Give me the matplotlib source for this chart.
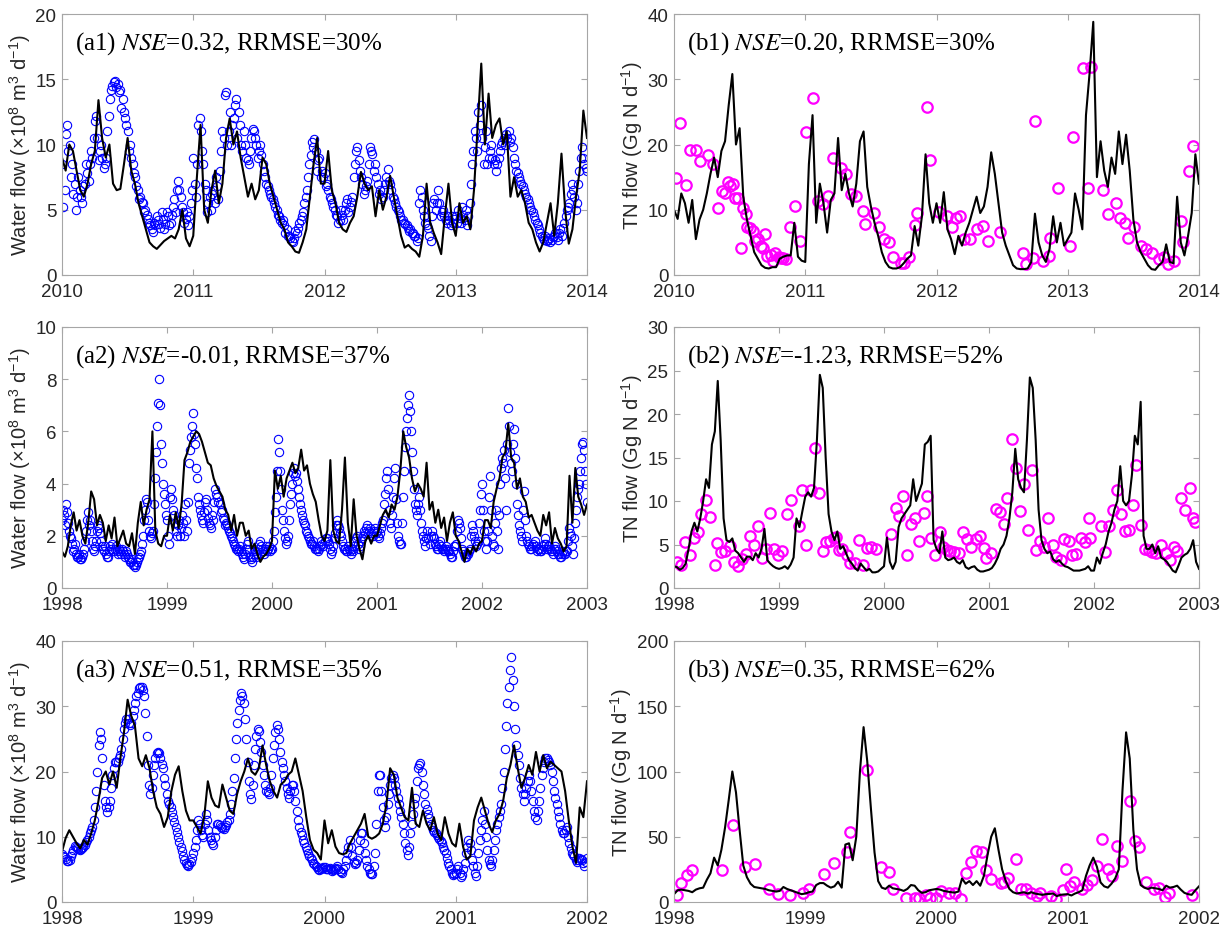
import numpy as np
import matplotlib.pyplot as plt

plt.rcParams['font.family'] = ['Liberation Sans', 'DejaVu Sans']
plt.rcParams['mathtext.fontset'] = 'custom'
plt.rcParams['mathtext.rm'] = 'Liberation Sans'
plt.rcParams['mathtext.it'] = 'Liberation Sans:italic'

# ---------------- (a1) water flow 2010-2014 ----------------
# simulated, ~10-day steps
a1_sim = [
    9.0, 8.0, 10.0, 9.5, 8.0, 6.5, 6.0, 7.0, 8.5, 9.5, 13.4, 10.5, 9.0, 10.0, 7.0, 6.5, 6.6, 8.5, 10.5, 8.0, 7.0, 5.5, 4.5, 3.5, 2.5, 2.2, 2.0, 2.3, 2.6, 2.8, 3.0, 2.8, 3.5, 5.0, 2.8, 2.2,
    3.0, 7.5, 11.5, 5.0, 4.0, 6.5, 8.0, 5.5, 7.0, 10.5, 12.0, 10.0, 11.0, 9.0, 7.5, 6.0, 7.0, 5.8, 6.5, 9.0, 8.5, 7.0, 6.0, 5.0, 4.0, 3.5, 2.5, 2.2, 1.8, 1.7, 2.5, 3.5, 6.0, 8.5, 10.5, 7.0,
    7.0, 9.5, 6.5, 5.5, 4.0, 3.5, 3.3, 4.0, 4.5, 6.0, 7.9, 7.0, 6.5, 6.8, 4.5, 6.5, 5.0, 6.0, 7.6, 6.0, 4.5, 3.0, 2.1, 2.3, 2.0, 1.8, 1.4, 3.0, 7.0, 4.0, 3.2, 2.5, 1.6, 4.5, 7.0, 4.0,
    3.0, 5.5, 4.0, 4.5, 3.5, 6.5, 11.4, 16.2, 10.0, 13.9, 10.5, 11.5, 12.0, 10.0, 11.0, 6.0, 7.5, 6.0, 6.5, 5.5, 4.0, 3.5, 2.5, 1.8, 2.5, 4.0, 5.5, 3.0, 5.5, 9.3, 5.0, 2.4, 3.5, 6.0, 8.0, 12.6,
    10.5]
# observed, weekly
a1_obs = [
    8.5, 6.5, 11.5, 10.0, 8.5, 7.0, 6.0, 6.5, 5.5, 7.0, 7.8, 8.5, 9.0, 11.8, 10.5, 9.5, 9.0, 8.5, 11.0, 13.5, 14.5, 14.9, 14.6, 14.2, 13.5, 12.0, 11.0, 10.0, 8.5, 7.5, 6.5, 6.0, 5.5, 5.0, 4.3, 3.8, 3.3, 3.8, 4.2, 3.6, 4.3, 3.9, 4.5, 4.0, 5.2, 4.8, 7.2, 6.0, 4.8, 4.3, 3.8, 5.5,
    9.0, 6.0, 11.5, 11.0, 8.5, 6.5, 5.5, 5.0, 6.5, 7.5, 5.8, 9.5, 10.5, 14.0, 11.0, 10.0, 12.0, 13.5, 12.5, 10.0, 11.0, 9.0, 8.5, 10.5, 11.0, 10.0, 9.5, 9.2, 8.0, 7.0, 6.5, 6.0, 5.5, 5.0, 4.5, 4.0, 3.8, 3.5, 3.0, 2.6, 2.8, 3.2, 4.0, 4.5, 5.5, 6.5, 8.5, 10.2, 10.4, 8.0, 9.0, 8.0,
    7.8, 7.0, 6.0, 5.5, 5.0, 4.5, 4.2, 4.6, 5.0, 5.8, 5.2, 6.0, 8.5, 9.8, 8.0, 7.0, 6.5, 7.2, 9.8, 9.3, 8.5, 7.0, 6.5, 6.0, 7.0, 8.1, 7.0, 6.0, 5.5, 5.0, 4.5, 4.2, 3.9, 3.6, 3.5, 3.2, 3.0, 2.8, 6.5, 5.0, 4.0, 3.6, 2.6, 5.5, 5.0, 6.5, 4.5, 5.0, 4.2, 4.5, 3.8, 4.0,
    4.5, 5.0, 4.0, 4.6, 5.0, 4.5, 7.0, 9.5, 10.5, 12.5, 13.0, 8.5, 11.0, 9.0, 10.0, 8.5, 8.0, 9.0, 10.0, 10.5, 10.8, 11.0, 10.5, 9.0, 8.0, 7.5, 7.0, 6.5, 6.0, 5.5, 5.0, 4.5, 4.0, 3.5, 3.0, 2.7, 2.6, 2.8, 2.7, 3.0, 2.9, 3.2, 3.0, 4.0, 5.0, 5.5, 7.0, 6.0, 5.5, 8.0, 9.8, 8.5,
    8.0]
# observed, mid-week readings
a1_obs_mid = [
    5.2, 10.8, 9.5, 7.5, 6.2, 5.0, 7.5, 6.0, 6.8, 8.5, 7.2, 9.5, 10.5, 12.2, 8.8, 10.0, 8.2, 9.0, 12.2, 14.2, 14.8, 14.4, 14.0, 12.8, 12.5, 11.5, 9.5, 9.0, 7.8, 6.8, 5.8, 5.6, 4.8, 4.6, 4.0, 3.5, 4.0, 4.5, 3.9, 4.8, 3.5, 4.8, 3.8, 4.6, 5.8, 6.5, 6.5, 5.2, 4.0, 4.8, 4.5, 6.5,
    7.0, 8.5, 12.0, 9.5, 7.0, 4.8, 6.0, 6.2, 5.5, 6.8, 8.0, 11.0, 13.8, 10.0, 12.5, 11.5, 13.0, 10.5, 11.5, 9.5, 10.0, 8.8, 9.5, 11.2, 10.5, 9.0, 10.0, 8.5, 7.5, 6.8, 6.2, 5.8, 5.2, 4.6, 4.2, 4.2, 3.2, 3.0, 2.8, 2.5, 3.4, 3.6, 4.2, 4.8, 6.0, 7.5, 9.2, 9.8, 9.5, 8.8, 7.5, 7.5,
    6.8, 6.5, 5.8, 5.2, 4.6, 4.0, 5.0, 4.2, 5.5, 4.8, 5.6, 7.5, 9.5, 8.8, 7.5, 6.2, 6.8, 8.5, 9.5, 8.0, 7.5, 6.2, 5.8, 6.5, 7.5, 7.2, 6.5, 5.8, 5.2, 4.8, 4.2, 4.0, 3.8, 3.4, 3.2, 3.0, 2.6, 5.5, 6.0, 4.5, 3.8, 3.0, 4.5, 5.8, 5.5, 5.5, 4.8, 4.5, 4.0, 4.2, 4.5, 4.3,
    4.0, 4.4, 5.2, 4.2, 3.8, 5.5, 8.5, 11.0, 9.5, 11.5, 10.5, 9.8, 8.5, 9.5, 9.0, 8.8, 8.5, 9.5, 10.2, 10.0, 10.5, 10.2, 9.8, 8.5, 7.8, 7.2, 6.8, 6.2, 5.8, 5.2, 4.8, 4.2, 3.8, 3.2, 2.8, 3.0, 2.7, 2.5, 2.9, 3.2, 2.7, 3.5, 3.6, 4.5, 5.2, 6.2, 6.5, 5.0, 7.0, 9.0, 9.0, 8.2]

# ---------------- (b1) TN flow 2010-2014 ----------------
b1_sim = [
    10.0, 8.6, 12.5, 11.0, 8.0, 11.5, 5.5, 8.5, 10.0, 12.5, 15.5, 18.0, 15.0, 19.0, 20.5, 26.0, 30.8, 20.0, 22.5, 12.0, 8.5, 6.0, 3.5, 2.5, 1.5, 1.1, 1.0, 1.2, 1.2, 2.5, 2.8, 3.0, 3.0, 8.0, 2.8, 2.2,
    2.0, 17.0, 24.5, 8.0, 14.0, 11.0, 6.5, 11.5, 12.5, 21.0, 13.0, 15.5, 12.5, 10.5, 14.0, 20.5, 22.0, 13.5, 10.5, 8.0, 6.0, 3.5, 2.0, 1.2, 1.0, 1.0, 1.2, 1.8, 2.5, 3.0, 7.5, 4.5, 9.0, 18.5, 11.0, 8.0,
    11.0, 8.0, 12.7, 7.0, 5.5, 3.2, 6.0, 4.5, 6.5, 8.0, 10.0, 12.0, 9.5, 10.5, 13.5, 18.8, 15.5, 11.0, 6.5, 4.5, 3.0, 1.5, 1.0, 0.9, 0.9, 1.0, 2.0, 9.4, 5.0, 3.0, 2.0, 4.0, 9.0, 5.0, 8.0, 4.5,
    5.5, 6.5, 12.5, 10.0, 7.0, 24.5, 31.0, 38.8, 15.0, 20.5, 16.0, 13.5, 18.0, 15.5, 22.0, 17.0, 21.5, 16.0, 8.5, 5.0, 3.5, 2.5, 1.5, 0.9, 0.8, 1.5, 2.0, 4.7, 2.0, 1.8, 12.0, 5.0, 3.0, 6.0, 9.5, 18.5,
    14.0]
b1_obs_t = [
    2010.013, 2010.048, 2010.089, 2010.119, 2010.165, 2010.2, 2010.258, 2010.299, 2010.332, 2010.362,
    2010.39, 2010.41, 2010.43, 2010.448, 2010.466, 2010.489, 2010.509, 2010.522, 2010.547, 2010.557,
    2010.58, 2010.605, 2010.618, 2010.64, 2010.666, 2010.681, 2010.696, 2010.711, 2010.739, 2010.757,
    2010.772, 2010.797, 2010.815, 2010.833, 2010.853, 2010.884, 2010.924, 2010.96, 2011.005, 2011.06,
    2011.10, 2011.134, 2011.172, 2011.213, 2011.276, 2011.314, 2011.347, 2011.387, 2011.44, 2011.456,
    2011.524, 2011.562, 2011.6, 2011.638, 2011.671, 2011.727, 2011.749, 2011.787, 2011.835, 2011.853,
    2011.93, 2011.952, 2012.02, 2012.08, 2012.12, 2012.152, 2012.182, 2012.213, 2012.258, 2012.309,
    2012.354, 2012.39, 2012.481, 2012.658, 2012.684, 2012.734, 2012.752, 2012.81, 2012.856, 2012.868,
    2012.927, 2013.02, 2013.038, 2013.119, 2013.154, 2013.177, 2013.271, 2013.306, 2013.365, 2013.397,
    2013.438, 2013.458, 2013.501, 2013.56, 2013.597, 2013.64, 2013.696, 2013.732, 2013.767, 2013.808,
    2013.861, 2013.881, 2013.92, 2013.954]
b1_obs = [
    14.9, 23.3, 13.8, 19.2, 19.1, 17.4, 18.4, 17.0, 10.3, 12.8,
    12.5, 14.2, 13.6, 13.9, 11.8, 11.8, 4.1, 10.2, 9.3, 7.4,
    7.2, 6.8, 5.2, 5.5, 4.4, 4.1, 6.3, 2.9, 3.1, 2.2,
    3.3, 2.7, 2.6, 2.6, 2.5, 7.3, 10.5, 5.2, 21.9, 27.1,
    11.4, 10.9, 12.1, 17.9, 16.4, 15.5, 12.4, 12.1, 9.8, 7.8,
    9.5, 7.3, 5.5, 5.0, 2.7, 1.9, 1.8, 2.7, 7.7, 9.5,
    25.8, 17.7, 9.6, 9.1, 7.3, 8.8, 9.0, 5.5, 5.5, 7.1,
    7.5, 5.2, 6.6, 3.3, 1.7, 2.6, 23.6, 2.1, 2.9, 5.7,
    13.4, 4.5, 21.2, 31.8, 13.4, 31.9, 13.0, 9.4, 11.0, 8.7,
    7.9, 5.6, 7.4, 4.5, 4.0, 3.3, 2.5, 2.7, 1.7, 2.1,
    8.2, 5.1, 16.0, 19.8]

# ---------------- (a2) water flow 1998-2003 ----------------
a2_sim = [
    1.4, 1.2, 1.6, 2.4, 2.9, 2.2, 2.6, 2.0, 1.7, 2.5, 3.7, 3.4, 2.4, 2.8, 2.5, 1.8, 2.4, 1.9, 2.7, 1.6, 1.9, 2.2, 1.7, 1.6, 2.1, 1.3, 2.5, 3.3, 2.4, 3.0, 3.4, 6.0, 2.2, 1.7, 1.6, 2.0,
    2.0, 2.8, 2.2, 2.9, 2.3, 3.2, 4.9, 5.2, 5.6, 5.8, 6.0, 5.9, 5.6, 5.2, 4.8, 4.7, 4.2, 3.9, 3.7, 3.5, 3.0, 2.8, 2.2, 2.8, 2.0, 2.5, 2.5, 2.0, 2.2, 1.5, 1.7, 1.3, 1.0, 1.2, 1.3, 1.5,
    1.8, 4.5, 3.8, 4.3, 3.5, 4.2, 4.5, 4.8, 4.4, 4.6, 5.3, 4.5, 4.7, 4.0, 3.6, 3.3, 2.6, 2.0, 1.8, 2.2, 4.9, 2.2, 1.8, 1.7, 3.0, 5.0, 2.5, 1.6, 3.4, 2.0, 1.5, 1.1, 1.8, 2.0, 1.7, 2.0,
    2.0, 2.4, 2.8, 3.0, 2.7, 3.2, 3.0, 3.5, 4.5, 6.0, 5.4, 5.0, 4.2, 3.7, 4.0, 3.8, 3.5, 4.8, 3.0, 3.3, 2.5, 3.0, 2.3, 2.7, 1.8, 2.5, 2.9, 2.0, 1.8, 1.4, 1.0, 1.5, 1.3, 1.6, 1.4, 1.7,
    1.8, 2.6, 2.6, 2.3, 3.3, 3.8, 4.2, 5.0, 5.2, 6.3, 5.0, 4.8, 3.8, 4.2, 3.5, 3.3, 2.7, 2.8, 2.5, 2.2, 2.0, 2.8, 2.4, 2.9, 1.7, 2.3, 1.9, 1.7, 1.4, 1.6, 4.3, 2.5, 4.6, 3.5, 3.2, 2.8,
    3.2]
a2_obs = [
    2.6, 2.8, 3.2, 2.5, 2.0, 1.7, 1.5, 1.3, 1.2, 1.1, 1.2, 1.5, 2.2, 2.9, 2.6, 1.8, 1.4, 1.8, 2.4, 2.1, 1.6, 1.4, 1.3, 1.2, 1.6, 1.7, 1.5, 1.4, 1.5, 1.3, 1.4, 1.2, 1.3, 1.1, 1.0, 0.9, 0.8, 1.0, 1.2, 1.4, 2.0, 3.0, 3.3, 2.2, 1.9, 2.2, 4.2, 6.2, 8.0, 5.5, 4.0, 3.2,
    2.6, 1.7, 3.8, 3.0, 2.5, 2.0, 2.6, 2.3, 2.5, 3.2, 2.2, 4.8, 5.8, 6.7, 5.5, 4.2, 3.2, 2.8, 2.5, 3.3, 3.0, 2.5, 2.3, 2.6, 3.8, 3.5, 3.2, 3.0, 2.6, 2.5, 2.3, 2.1, 1.9, 1.7, 1.5, 1.4, 1.6, 1.3, 1.1, 1.5, 1.8, 1.2, 1.0, 1.3, 1.2, 1.5, 1.8, 1.5, 1.3, 1.6, 1.5, 1.4,
    1.5, 2.2, 3.5, 5.7, 4.5, 3.0, 2.2, 1.7, 2.0, 3.2, 4.0, 4.6, 4.4, 3.8, 3.2, 2.8, 2.5, 2.2, 2.0, 1.8, 1.7, 1.6, 1.5, 1.4, 1.6, 1.7, 1.8, 1.9, 1.7, 1.3, 1.6, 2.1, 2.6, 2.3, 2.0, 1.6, 1.5, 1.4, 1.5, 1.3, 1.4, 1.8, 2.0, 1.5, 1.8, 2.0, 2.1, 2.4, 2.2, 2.1, 2.0, 2.3,
    2.2, 1.9, 2.3, 2.6, 3.6, 4.5, 3.0, 2.3, 3.5, 4.6, 2.5, 1.8, 1.7, 3.5, 5.4, 6.5, 7.4, 6.0, 4.5, 3.2, 2.8, 3.5, 2.5, 2.0, 1.6, 2.2, 1.7, 2.2, 1.9, 1.6, 1.5, 1.8, 1.5, 1.4, 1.6, 1.4, 1.3, 1.2, 1.6, 1.7, 2.6, 2.3, 1.5, 1.3, 1.2, 1.3, 1.5, 2.4, 2.0, 1.6, 1.8, 3.0,
    4.0, 2.2, 1.5, 2.2, 4.3, 2.0, 1.6, 3.0, 1.5, 4.0, 5.0, 5.3, 3.0, 6.9, 5.2, 4.5, 6.1, 4.0, 2.8, 2.2, 1.8, 3.7, 2.0, 1.7, 1.5, 1.6, 1.8, 1.4, 1.5, 1.4, 1.6, 1.9, 1.5, 1.6, 1.4, 1.3, 1.6, 1.4, 1.3, 1.2, 1.4, 1.3, 1.4, 2.3, 2.0, 1.3, 2.5, 3.5, 4.0, 5.0, 5.6, 4.5,
    3.3]
a2_obs_mid = [
    3.0, 2.4, 2.9, 2.2, 1.9, 1.4, 1.7, 1.2, 1.3, 1.1, 1.3, 1.8, 2.6, 2.4, 2.2, 1.5, 1.6, 2.2, 2.3, 1.8, 1.5, 1.6, 1.2, 1.4, 1.5, 1.4, 1.6, 1.3, 1.4, 1.5, 1.3, 1.4, 1.2, 1.0, 1.1, 0.9, 0.9, 1.1, 1.3, 1.7, 2.6, 3.4, 2.6, 2.0, 2.1, 3.2, 5.2, 7.1, 7.0, 4.8, 3.6, 2.8,
    2.0, 3.5, 3.4, 2.8, 2.2, 2.4, 2.0, 2.8, 2.0, 2.6, 3.3, 5.3, 6.2, 5.9, 4.6, 3.5, 3.0, 2.6, 2.9, 3.4, 2.7, 2.4, 2.8, 3.3, 3.6, 3.3, 2.9, 2.7, 2.4, 2.4, 2.2, 2.0, 1.8, 1.6, 1.5, 1.5, 1.4, 1.2, 1.3, 1.7, 1.5, 1.1, 1.2, 1.4, 1.3, 1.7, 1.6, 1.4, 1.5, 1.4, 1.6, 1.5,
    1.8, 2.9, 4.5, 5.2, 3.8, 2.6, 1.9, 1.8, 2.6, 3.6, 4.4, 4.3, 4.1, 3.5, 3.0, 2.6, 2.4, 2.1, 1.9, 1.7, 1.8, 1.5, 1.5, 1.5, 1.8, 1.6, 1.9, 1.8, 1.5, 1.4, 1.9, 2.4, 2.4, 2.1, 1.8, 1.5, 1.4, 1.6, 1.4, 1.5, 1.6, 1.9, 1.7, 1.6, 1.9, 2.2, 2.3, 2.1, 2.3, 2.0, 2.2, 2.1,
    2.0, 2.1, 2.5, 3.2, 4.2, 3.8, 2.5, 2.8, 4.2, 3.4, 2.0, 1.7, 2.5, 4.5, 6.0, 7.0, 6.8, 5.2, 3.8, 3.0, 3.2, 3.0, 2.2, 1.8, 1.9, 1.9, 2.0, 2.0, 1.7, 1.5, 1.7, 1.6, 1.5, 1.5, 1.5, 1.4, 1.2, 1.4, 1.6, 2.2, 2.5, 1.9, 1.4, 1.2, 1.3, 1.4, 2.0, 2.2, 1.8, 1.7, 2.5, 3.6,
    3.0, 1.8, 1.8, 3.5, 3.0, 1.7, 2.5, 2.2, 2.8, 4.6, 4.8, 4.2, 5.5, 6.2, 4.8, 5.5, 5.0, 3.2, 2.4, 2.0, 3.0, 2.6, 1.8, 1.6, 1.5, 1.7, 1.6, 1.5, 1.4, 1.5, 1.7, 1.7, 1.6, 1.5, 1.4, 1.5, 1.5, 1.3, 1.2, 1.3, 1.3, 1.4, 1.8, 2.1, 1.6, 1.9, 3.0, 3.8, 4.5, 5.5, 5.3, 4.0]

# ---------------- (b2) TN flow 1998-2003 ----------------
b2_sim = [
    2.5, 2.4, 2.1, 2.3, 2.8, 4.5, 6.5, 7.5, 6.5, 8.0, 10.0, 12.5, 11.5, 16.5, 18.0, 23.8, 17.0, 8.0, 5.5, 5.3, 5.7, 4.3, 4.0, 3.5, 3.0, 3.6, 3.6, 3.2, 4.0, 3.5, 4.5, 6.8, 3.2, 2.8, 2.5, 2.3,
    2.2, 2.3, 2.5, 2.2, 2.7, 3.5, 8.0, 7.0, 8.8, 10.5, 11.0, 10.5, 11.5, 17.0, 24.5, 23.0, 15.0, 8.5, 6.5, 5.5, 6.5, 4.5, 4.8, 4.0, 3.2, 2.8, 2.3, 2.0, 2.8, 2.4, 2.0, 2.2, 1.8, 1.8, 1.9, 2.2,
    2.5, 5.8, 3.0, 2.2, 3.0, 7.0, 8.0, 8.5, 9.0, 9.5, 12.5, 10.0, 11.0, 12.0, 16.5, 16.8, 17.5, 5.5, 4.5, 4.0, 6.5, 3.5, 3.2, 3.3, 3.5, 3.0, 2.8, 3.2, 2.4, 2.2, 2.4, 2.5, 2.1, 1.9, 1.9, 2.0,
    2.1, 2.3, 2.8, 3.5, 4.5, 5.0, 6.0, 8.0, 11.0, 16.0, 12.5, 11.5, 11.0, 17.0, 24.2, 23.0, 17.0, 9.0, 5.5, 4.5, 4.0, 4.2, 3.3, 3.0, 3.2, 2.8, 2.5, 2.4, 2.2, 2.0, 2.0, 2.0, 2.1, 2.2, 2.5, 2.0,
    2.0, 3.5, 2.8, 4.0, 5.0, 6.5, 7.5, 9.0, 10.0, 14.0, 10.0, 9.5, 10.0, 13.0, 17.5, 16.5, 21.4, 6.0, 4.5, 4.5, 5.0, 4.0, 4.8, 3.5, 3.3, 3.0, 2.5, 2.0, 1.8, 2.6, 3.5, 3.8, 4.0, 4.5, 5.5, 3.0,
    2.2]
b2_obs_t = [
    1998.03, 1998.07, 1998.105, 1998.15, 1998.19, 1998.23, 1998.26, 1998.305, 1998.34, 1998.39,
    1998.41, 1998.45, 1998.49, 1998.53, 1998.57, 1998.61, 1998.65, 1998.69, 1998.725, 1998.76,
    1998.80, 1998.84, 1998.88, 1998.915, 1998.95, 1998.99, 1999.03, 1999.075, 1999.11, 1999.19,
    1999.22, 1999.26, 1999.30, 1999.34, 1999.38, 1999.415, 1999.45, 1999.485, 1999.52, 1999.54,
    1999.57, 1999.60, 1999.645, 1999.68, 1999.72, 1999.76, 1999.80, 1999.835, 1999.875, 1999.92,
    2000.07, 2000.11, 2000.14, 2000.18, 2000.22, 2000.26, 2000.295, 2000.33, 2000.378, 2000.413,
    2000.451, 2000.489, 2000.53, 2000.562, 2000.6, 2000.632, 2000.667, 2000.714, 2000.752, 2000.794,
    2000.832, 2000.873, 2000.911, 2000.949, 2000.968, 2001.022, 2001.063, 2001.102, 2001.14, 2001.175,
    2001.219, 2001.26, 2001.298, 2001.333, 2001.371, 2001.41, 2001.444, 2001.489, 2001.524, 2001.562,
    2001.61, 2001.635, 2001.683, 2001.711, 2001.759, 2001.787, 2001.825, 2001.879, 2001.911, 2001.949,
    2001.965, 2002.063, 2002.102, 2002.143, 2002.181, 2002.219, 2002.257, 2002.292, 2002.333, 2002.371,
    2002.403, 2002.448, 2002.483, 2002.524, 2002.556, 2002.594, 2002.641, 2002.683, 2002.721, 2002.759,
    2002.794, 2002.832, 2002.87, 2002.911, 2002.943, 2002.965]
b2_obs = [
    3.0, 2.7, 5.3, 3.8, 5.7, 6.4, 8.5, 10.1, 8.2, 2.6,
    5.2, 4.1, 4.2, 4.8, 3.0, 2.5, 3.3, 3.9, 6.0, 4.9,
    7.1, 3.4, 4.5, 8.6, 4.5, 3.8, 4.2, 8.5, 10.1, 7.1,
    11.3, 4.9, 11.3, 16.1, 10.9, 4.3, 5.3, 5.4, 5.7, 5.9,
    4.4, 4.5, 3.8, 2.9, 2.9, 5.5, 2.7, 4.6, 4.7, 4.5,
    6.2, 9.2, 8.3, 10.6, 3.8, 7.3, 8.1, 5.4, 8.6, 10.6,
    5.8, 3.8, 6.4, 4.7, 4.4, 4.3, 4.1, 4.0, 6.4, 5.6,
    4.7, 5.6, 6.0, 4.6, 3.4, 4.0, 9.1, 8.7, 7.4, 10.4,
    17.1, 13.8, 8.9, 11.9, 6.7, 13.6, 4.4, 5.4, 4.7, 8.1,
    4.9, 3.6, 3.2, 5.6, 5.4, 3.8, 3.9, 5.7, 5.3, 8.1,
    5.8, 7.1, 4.1, 7.1, 9.0, 11.3, 8.5, 6.5, 6.7, 9.5,
    14.1, 7.2, 4.5, 4.4, 4.1, 4.0, 5.0, 4.0, 3.2, 4.7,
    4.3, 10.4, 9.0, 11.5, 8.1, 7.6]

# ---------------- (a3) water flow 1998-2002 ----------------
a3_sim = [
    7.7, 9.8, 11.0, 10.0, 9.0, 8.2, 9.5, 8.8, 10.5, 12.5, 15.5, 19.0, 20.0, 18.0, 20.0, 17.5, 22.0, 26.0, 31.0, 28.5, 27.0, 22.0, 20.8, 22.5, 20.5, 17.0, 14.5, 13.5, 11.5, 13.0, 17.0, 19.5, 20.8, 17.0, 14.0, 12.5,
    12.5, 11.5, 10.5, 13.0, 18.5, 16.0, 14.8, 14.5, 18.0, 16.0, 14.0, 13.5, 16.5, 18.5, 20.0, 22.0, 20.0, 19.5, 20.5, 24.0, 21.0, 18.5, 17.0, 16.0, 18.0, 18.5, 19.5, 20.0, 22.0, 19.5, 17.0, 13.0, 9.5, 8.0, 7.5, 6.5,
    12.5, 9.0, 11.0, 8.5, 7.5, 7.3, 7.5, 9.0, 10.0, 11.0, 12.0, 13.5, 10.0, 9.7, 10.0, 10.5, 12.0, 15.0, 20.5, 19.5, 16.0, 14.5, 13.0, 12.5, 17.5, 12.0, 11.5, 14.0, 12.0, 11.0, 13.0, 10.5, 9.5, 13.0, 10.5, 9.0,
    8.5, 12.0, 8.5, 6.5, 7.0, 12.5, 14.5, 16.0, 14.0, 12.0, 10.7, 12.5, 13.5, 15.5, 19.0, 21.0, 24.0, 20.5, 17.5, 19.0, 21.0, 19.5, 23.0, 20.0, 22.5, 20.5, 21.5, 21.0, 20.5, 20.0, 17.0, 12.5, 8.5, 6.0, 14.5, 13.0,
    18.5]
a3_obs = [
    7.3, 6.9, 6.3, 6.5, 7.5, 8.6, 8.3, 8.0, 8.2, 8.8, 9.5, 10.5, 11.5, 14.5, 20.0, 26.0, 22.0, 15.5, 13.8, 15.5, 19.5, 21.5, 21.5, 22.5, 25.0, 27.5, 28.0, 27.2, 28.5, 30.5, 32.0, 33.0, 32.5, 29.0, 21.0, 16.5, 19.5, 22.0, 23.0, 22.0, 20.5, 18.0, 15.5, 14.5, 13.0, 11.5, 10.0, 8.5, 7.0, 6.0, 5.5, 6.2,
    7.5, 9.5, 12.5, 11.0, 10.0, 13.5, 11.0, 9.5, 8.8, 11.0, 12.0, 11.5, 11.2, 11.8, 12.5, 15.0, 19.0, 25.0, 29.5, 32.0, 30.5, 25.0, 18.5, 15.8, 21.0, 25.5, 26.2, 23.0, 19.5, 17.0, 16.6, 19.5, 24.0, 27.2, 25.0, 21.5, 19.5, 17.5, 16.0, 18.0, 17.0, 14.0, 11.5, 10.2, 9.0, 8.0, 7.0, 6.5, 5.8, 5.3, 4.9, 5.2,
    5.3, 5.0, 5.2, 4.8, 5.0, 5.5, 4.8, 4.5, 5.5, 7.5, 9.5, 7.0, 5.8, 6.5, 9.5, 10.5, 7.5, 5.5, 4.5, 4.3, 7.5, 17.0, 19.5, 14.5, 11.5, 15.0, 18.0, 19.5, 18.0, 16.0, 14.0, 12.0, 9.0, 7.2, 10.5, 13.5, 16.0, 20.5, 21.3, 18.0, 15.0, 13.5, 12.0, 11.0, 10.5, 10.0, 9.3, 8.5, 7.5, 6.0, 5.0, 4.2,
    4.5, 5.5, 3.8, 5.0, 7.5, 9.5, 8.0, 5.5, 4.0, 7.5, 11.0, 14.0, 10.0, 6.5, 5.5, 8.0, 11.0, 13.0, 15.0, 20.0, 27.0, 33.0, 37.5, 30.0, 24.0, 21.0, 17.5, 15.5, 17.5, 19.5, 17.0, 14.0, 12.5, 15.5, 19.5, 21.5, 22.0, 21.5, 20.0, 17.0, 15.0, 13.0, 11.0, 10.5, 11.5, 9.0, 7.5, 7.0, 6.2, 6.8, 6.5, 5.5,
    6.8]
a3_obs_mid = [
    7.1, 6.6, 6.3, 7.0, 8.0, 8.5, 8.1, 8.1, 8.5, 9.2, 10.0, 11.0, 12.5, 17.0, 24.0, 25.0, 18.0, 14.5, 14.5, 17.5, 20.5, 21.5, 22.0, 23.5, 26.5, 28.0, 27.5, 27.5, 29.5, 31.5, 32.8, 33.0, 31.5, 25.5, 18.0, 17.5, 21.0, 22.8, 22.8, 21.2, 19.0, 16.5, 15.0, 13.8, 12.2, 10.8, 9.2, 7.8, 6.5, 5.7, 5.8, 6.8,
    8.5, 11.0, 12.0, 10.2, 12.0, 12.5, 10.0, 9.0, 10.0, 12.0, 11.8, 11.3, 11.5, 12.2, 13.5, 17.0, 22.0, 27.5, 31.0, 31.5, 28.0, 21.5, 16.5, 18.0, 23.5, 26.5, 24.5, 21.0, 18.0, 16.8, 17.5, 22.0, 26.0, 26.5, 23.0, 20.5, 18.5, 16.5, 17.0, 18.0, 15.5, 12.5, 10.8, 9.5, 8.5, 7.5, 6.7, 6.0, 5.5, 5.0, 5.0, 5.3,
    5.1, 5.0, 5.0, 4.9, 5.2, 5.1, 4.6, 5.0, 6.5, 8.5, 8.5, 6.2, 6.0, 8.0, 10.5, 9.0, 6.5, 5.0, 4.3, 5.5, 12.0, 19.5, 17.0, 12.5, 13.0, 16.5, 19.0, 19.0, 17.0, 15.0, 13.0, 10.5, 8.0, 8.5, 12.0, 15.0, 18.5, 21.0, 20.0, 16.5, 14.2, 12.8, 11.5, 10.8, 10.2, 9.6, 9.0, 8.0, 6.8, 5.5, 4.5, 4.3,
    5.0, 4.5, 4.2, 6.0, 8.5, 9.0, 6.5, 4.5, 5.5, 9.5, 12.5, 12.0, 8.0, 5.8, 6.5, 9.5, 12.0, 14.0, 17.5, 23.5, 30.5, 35.5, 34.0, 26.5, 22.5, 19.0, 16.5, 16.5, 18.5, 18.5, 15.5, 13.0, 14.0, 17.5, 20.5, 22.0, 21.8, 21.0, 18.5, 16.0, 14.0, 12.0, 10.5, 11.0, 10.0, 8.2, 7.2, 6.5, 6.5, 6.6, 6.0, 6.2]

# ---------------- (b3) TN flow 1998-2002 ----------------
b3_sim = [
    6.0, 9.0, 9.5, 9.0, 8.5, 7.5, 9.5, 10.5, 11.0, 17.0, 22.0, 34.0, 28.0, 40.0, 57.0, 78.0, 100.0, 84.0, 55.0, 28.0, 19.0, 14.0, 11.5, 11.0, 10.5, 10.0, 9.0, 8.5, 8.0, 8.5, 11.5, 10.0, 9.0, 8.0, 7.0, 6.0,
    6.5, 7.5, 8.0, 13.0, 14.5, 14.5, 12.5, 11.0, 12.0, 15.5, 11.0, 44.0, 45.0, 32.0, 50.0, 100.0, 134.0, 108.0, 72.0, 38.0, 16.0, 11.0, 10.0, 12.5, 10.5, 10.0, 9.5, 8.5, 10.0, 13.0, 12.5, 9.0, 7.0, 7.5, 9.0, 9.5,
    10.0, 9.5, 8.5, 8.0, 7.5, 7.2, 8.0, 18.0, 14.0, 16.0, 13.0, 16.0, 12.5, 20.0, 36.0, 50.0, 56.5, 40.0, 25.0, 16.0, 10.0, 7.5, 6.5, 7.0, 7.5, 6.5, 7.5, 6.5, 6.0, 5.5, 6.0, 6.2, 6.5, 4.5, 5.5, 5.8,
    6.0, 5.0, 6.5, 7.5, 9.0, 20.0, 28.0, 34.0, 27.0, 15.0, 12.0, 11.0, 14.0, 18.0, 25.0, 85.0, 130.0, 110.0, 55.0, 25.0, 13.0, 11.0, 10.0, 11.0, 10.5, 10.0, 9.0, 12.5, 11.0, 11.5, 12.5, 9.5, 7.0, 6.0, 5.5, 9.0,
    12.0]
b3_obs_t = [
    1998.026, 1998.054, 1998.097, 1998.138, 1998.364, 1998.446, 1998.541, 1998.62, 1998.72, 1998.795,
    1998.887, 1998.982, 1999.028, 1999.141, 1999.218, 1999.315, 1999.341, 1999.469, 1999.579, 1999.636,
    1999.672, 1999.769, 1999.838, 1999.87, 1999.918, 1999.954, 1999.995, 2000.033, 2000.097, 2000.141,
    2000.185, 2000.226, 2000.264, 2000.303, 2000.346, 2000.379, 2000.418, 2000.492, 2000.513, 2000.546,
    2000.608, 2000.646, 2000.685, 2000.723, 2000.762, 2000.787, 2000.872, 2000.91, 2000.967, 2000.987,
    2001.018, 2001.051, 2001.108, 2001.149, 2001.185, 2001.226, 2001.262, 2001.308, 2001.338, 2001.379,
    2001.415, 2001.477, 2001.513, 2001.546, 2001.597, 2001.654, 2001.692, 2001.744, 2001.774, 2001.944]
b3_obs = [
    5.7, 14.2, 20.7, 24.6, 24.6, 58.7, 26.6, 29.5, 9.8, 6.0,
    5.2, 7.0, 10.3, 21.5, 29.8, 38.0, 53.8, 101.4, 27.2, 23.3,
    10.3, 3.1, 3.1, 3.1, 5.2, 3.1, 3.1, 8.3, 7.2, 7.2,
    2.1, 22.0, 30.5, 39.3, 38.3, 24.3, 17.6, 14.2, 15.0, 18.6,
    32.9, 10.3, 10.3, 7.0, 4.7, 7.0, 4.7, 2.1, 9.1, 25.4,
    12.4, 15.0, 9.8, 12.9, 16.8, 27.9, 48.4, 25.4, 20.2, 42.7,
    31.6, 77.1, 46.6, 42.2, 15.5, 10.3, 10.9, 3.9, 7.0, 5.2]

water_label = 'Water flow (×10$^{\\mathrm{8}}$ m$^{\\mathrm{3}}$ d$^{\\mathrm{-1}}$)'
tn_label = 'TN flow (Gg N d$^{\\mathrm{-1}}$)'

fig = plt.figure(figsize=(12.24, 9.28), dpi=100)

W, H = 525 / 1224, 261 / 928
lefts = [62 / 1224, 674 / 1224]
bottoms = [(928 - 276) / 928, (928 - 589) / 928, (928 - 903) / 928]
edge = '#a6a6a6'


def panel(col, row, x0, x1, ymax, ystep, sim, obs_t, obs, obs_mid, title):
    ax = fig.add_axes([lefts[col], bottoms[row], W, H])
    water = obs_mid is not None
    if water:
        t_obs = np.linspace(x0, x1, len(obs))
        t_mid = (t_obs[:-1] + t_obs[1:]) / 2
        ax.plot(t_obs, obs, 'o', mfc='none', mec='#0000ff', ms=6, mew=0.8)
        ax.plot(t_mid, obs_mid, 'o', mfc='none', mec='#0000ff', ms=6, mew=0.8)
    else:
        ax.plot(obs_t, obs, 'o', mfc='none', mec='#ff00ff', ms=7.5, mew=1.6)
    t_sim = np.linspace(x0, x1, len(sim))
    ax.plot(t_sim, sim, color='k', lw=1.5)
    ax.set_xlim(x0, x1)
    ax.set_ylim(0, ymax)
    ax.set_xticks(range(x0, x1 + 1))
    ax.set_yticks(np.arange(0, ymax + 1, ystep))
    ax.tick_params(direction='in', top=True, right=True, length=4, width=0.8,
                   color=edge, labelsize=13.5, labelcolor='#262626')
    ax.tick_params(axis='x', pad=6)
    ax.tick_params(axis='y', pad=4)
    for s in ax.spines.values():
        s.set_color(edge)
        s.set_linewidth(0.8)
    ax.set_ylabel(water_label if water else tn_label, fontsize=14.5,
                  color='#262626', labelpad=2)
    ax.text(0.025, 0.866, title, transform=ax.transAxes, fontsize=18,
            family='Liberation Serif', math_fontfamily='stix', va='baseline')
    return ax


panel(0, 0, 2010, 2014, 20, 5, a1_sim, None, a1_obs, a1_obs_mid,
      r'(a1) $\mathit{NSE}$=0.32, RRMSE=30%')
panel(1, 0, 2010, 2014, 40, 10, b1_sim, b1_obs_t, b1_obs, None,
      r'(b1) $\mathit{NSE}$=0.20, RRMSE=30%')
panel(0, 1, 1998, 2003, 10, 2, a2_sim, None, a2_obs, a2_obs_mid,
      r'(a2) $\mathit{NSE}$=-0.01, RRMSE=37%')
panel(1, 1, 1998, 2003, 30, 5, b2_sim, b2_obs_t, b2_obs, None,
      r'(b2) $\mathit{NSE}$=-1.23, RRMSE=52%')
panel(0, 2, 1998, 2002, 40, 10, a3_sim, None, a3_obs, a3_obs_mid,
      r'(a3) $\mathit{NSE}$=0.51, RRMSE=35%')
panel(1, 2, 1998, 2002, 200, 50, b3_sim, b3_obs_t, b3_obs, None,
      r'(b3) $\mathit{NSE}$=0.35, RRMSE=62%')

fig.savefig('out.png', dpi=100)
